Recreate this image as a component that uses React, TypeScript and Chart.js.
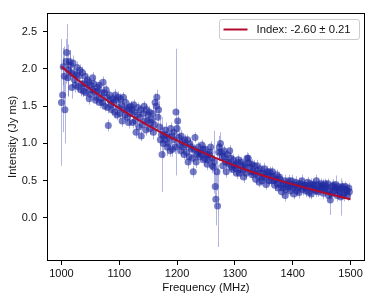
import React, { useEffect, useRef } from "react";
import { Chart, registerables } from "chart.js";

Chart.register(...registerables);

// ---- data (two interleaved channel sets) ----
const FREQ = [
  1000, 1003, 1006, 1009, 1012, 1015, 1018, 1021, 1024, 1027,
  1030, 1033, 1036, 1039, 1042, 1045, 1048, 1051, 1054, 1057,
  1060, 1063, 1066, 1069, 1072, 1075, 1078, 1081, 1084, 1087,
  1090, 1093, 1096, 1099, 1102, 1105, 1108, 1111, 1114, 1117,
  1120, 1123, 1126, 1129, 1132, 1135, 1138, 1141, 1144, 1147,
  1150, 1153, 1156, 1159, 1162, 1165, 1168, 1171, 1174, 1177,
  1180, 1183, 1186, 1189, 1192, 1195, 1198, 1201, 1204, 1207,
  1210, 1213, 1216, 1219, 1222, 1225, 1228, 1231, 1234, 1237,
  1240, 1243, 1246, 1249, 1252, 1255, 1258, 1261, 1264, 1267,
  1270, 1273, 1276, 1279, 1282, 1285, 1288, 1291, 1294, 1297,
  1300, 1303, 1306, 1309, 1312, 1315, 1318, 1321, 1324, 1327,
  1330, 1333, 1336, 1339, 1342, 1345, 1348, 1351, 1354, 1357,
  1360, 1363, 1366, 1369, 1372, 1375, 1378, 1381, 1384, 1387,
  1390, 1393, 1396, 1399, 1402, 1405, 1408, 1411, 1414, 1417,
  1420, 1423, 1426, 1429, 1432, 1435, 1438, 1441, 1444, 1447,
  1450, 1453, 1456, 1459, 1462, 1465, 1468, 1471, 1474, 1477,
  1480, 1483, 1486, 1489, 1492, 1495, 1498,
];

const INTENSITY = [
  1.55, 2.03, 1.45, 2.22, 1.98, 2.05, 1.75, 1.93, 1.78, 2.02,
  1.90, 1.72, 1.95, 1.80, 1.68, 1.85, 1.60, 1.78, 1.88, 1.70,
  1.62, 1.75, 1.55, 1.68, 1.82, 1.50, 1.62, 1.24, 1.58, 1.45,
  1.55, 1.65, 1.38, 1.48, 1.60, 1.30, 1.45, 1.55, 1.35, 1.48,
  1.50, 1.28, 1.42, 1.15, 1.48, 1.35, 1.10, 1.40, 1.30, 1.45,
  1.38, 1.20, 1.32, 1.15, 1.55, 1.62, 1.45, 1.05, 0.85, 1.10,
  1.18, 0.95, 1.08, 1.20, 0.92, 1.05, 1.42, 1.30, 0.98, 1.10,
  0.95, 1.05, 0.88, 0.75, 1.00, 0.92, 0.62, 1.08, 0.85, 0.95,
  0.88, 0.98, 0.78, 0.92, 0.72, 0.85, 0.95, 0.70, 0.75, 0.25,
  0.16, 0.95, 0.88, 0.70, 0.82, 0.62, 0.75, 0.90, 0.68, 0.78,
  0.72, 0.60, 0.78, 0.65, 0.70, 0.55, 0.68, 0.80, 0.74, 0.62,
  0.58, 0.70, 0.52, 0.64, 0.48, 0.60, 0.55, 0.66, 0.45, 0.58,
  0.62, 0.50, 0.56, 0.44, 0.58, 0.40, 0.52, 0.35, 0.46, 0.30,
  0.42, 0.50, 0.36, 0.45, 0.32, 0.48, 0.40, 0.34, 0.46, 0.38,
  0.44, 0.36, 0.48, 0.40, 0.32, 0.45, 0.38, 0.50, 0.35, 0.42,
  0.40, 0.33, 0.46, 0.38, 0.30, 0.24, 0.42, 0.36, 0.45, 0.30,
  0.38, 0.28, 0.42, 0.33, 0.38, 0.30, 0.35,
];

const ERROR = [
  0.85, 0.25, 0.45, 0.38, 0.35, 0.20, 0.15, 0.12, 0.10, 0.08,
  0.08, 0.09, 0.08, 0.07, 0.08, 0.07, 0.08, 0.07, 0.08, 0.07,
  0.08, 0.07, 0.08, 0.07, 0.08, 0.07, 0.08, 0.08, 0.07, 0.08,
  0.07, 0.08, 0.07, 0.08, 0.07, 0.08, 0.07, 0.08, 0.07, 0.08,
  0.07, 0.08, 0.07, 0.08, 0.07, 0.08, 0.07, 0.08, 0.07, 0.08,
  0.07, 0.08, 0.09, 0.10, 0.12, 0.10, 0.12, 0.15, 0.50, 0.12,
  0.10, 0.12, 0.09, 0.08, 0.10, 0.12, 0.85, 0.15, 0.10, 0.08,
  0.08, 0.07, 0.08, 0.09, 0.07, 0.08, 0.08, 0.07, 0.08, 0.07,
  0.08, 0.07, 0.08, 0.07, 0.08, 0.07, 0.08, 0.10, 0.42, 0.35,
  0.55, 0.15, 0.10, 0.08, 0.07, 0.08, 0.07, 0.08, 0.07, 0.08,
  0.07, 0.08, 0.07, 0.08, 0.07, 0.08, 0.07, 0.08, 0.07, 0.08,
  0.07, 0.08, 0.07, 0.08, 0.07, 0.08, 0.07, 0.08, 0.07, 0.08,
  0.07, 0.08, 0.07, 0.08, 0.07, 0.08, 0.07, 0.08, 0.07, 0.08,
  0.07, 0.08, 0.07, 0.08, 0.07, 0.08, 0.07, 0.08, 0.07, 0.08,
  0.07, 0.08, 0.07, 0.08, 0.07, 0.08, 0.07, 0.08, 0.07, 0.08,
  0.07, 0.08, 0.07, 0.08, 0.07, 0.20, 0.08, 0.07, 0.12, 0.08,
  0.07, 0.25, 0.08, 0.07, 0.08, 0.07, 0.08,
];

const FREQ_B = [
  1002, 1005, 1008, 1011, 1014, 1017, 1020, 1023, 1026, 1029,
  1032, 1035, 1038, 1041, 1044, 1047, 1050, 1053, 1056, 1059,
  1062, 1065, 1068, 1071, 1074, 1077, 1080, 1083, 1086, 1089,
  1092, 1095, 1098, 1101, 1104, 1107, 1110, 1113, 1116, 1119,
  1122, 1125, 1128, 1131, 1134, 1137, 1140, 1143, 1146, 1149,
  1152, 1155, 1158, 1161, 1164, 1167, 1170, 1173, 1176, 1179,
  1182, 1185, 1188, 1191, 1194, 1197, 1200, 1203, 1206, 1209,
  1212, 1215, 1218, 1221, 1224, 1227, 1230, 1233, 1236, 1239,
  1242, 1245, 1248, 1251, 1254, 1257, 1260, 1263, 1266, 1269,
  1272, 1275, 1278, 1281, 1284, 1287, 1290, 1293, 1296, 1299,
  1302, 1305, 1308, 1311, 1314, 1317, 1320, 1323, 1326, 1329,
  1332, 1335, 1338, 1341, 1344, 1347, 1350, 1353, 1356, 1359,
  1362, 1365, 1368, 1371, 1374, 1377, 1380, 1383, 1386, 1389,
  1392, 1395, 1398, 1401, 1404, 1407, 1410, 1413, 1416, 1419,
  1422, 1425, 1428, 1431, 1434, 1437, 1440, 1443, 1446, 1449,
  1452, 1455, 1458, 1461, 1464, 1467, 1470, 1473, 1476, 1479,
  1482, 1485, 1488, 1491, 1494, 1497,
];

const INTENSITY_B = [
  1.65, 1.90, 2.10, 1.88, 2.10, 1.95, 2.08, 1.85, 1.92, 1.76,
  1.98, 1.80, 1.70, 1.90, 1.75, 1.82, 1.66, 1.72, 1.80, 1.58,
  1.70, 1.78, 1.60, 1.55, 1.68, 1.72, 1.48, 1.65, 1.52, 1.60,
  1.42, 1.58, 1.62, 1.40, 1.52, 1.62, 1.38, 1.46, 1.28, 1.40,
  1.45, 1.52, 1.30, 1.38, 1.22, 1.45, 1.25, 1.50, 1.18, 1.30,
  1.42, 1.28, 1.40, 1.25, 1.50, 1.35, 1.22, 1.12, 1.00, 1.05,
  1.12, 1.00, 0.90, 1.10, 1.15, 0.95, 1.20, 1.08, 0.90, 1.02,
  0.85, 0.98, 1.05, 0.82, 0.95, 0.80, 0.92, 0.75, 0.88, 0.82,
  0.85, 0.92, 0.80, 0.85, 0.78, 0.88, 0.80, 0.68, 0.42, 0.62,
  0.88, 1.00, 0.82, 0.90, 0.75, 0.85, 0.72, 0.80, 0.65, 0.70,
  0.66, 0.74, 0.60, 0.75, 0.64, 0.72, 0.60, 0.80, 0.68, 0.72,
  0.62, 0.60, 0.70, 0.56, 0.66, 0.50, 0.60, 0.54, 0.62, 0.50,
  0.56, 0.62, 0.50, 0.52, 0.46, 0.55, 0.44, 0.40, 0.50, 0.38,
  0.46, 0.42, 0.50, 0.40, 0.44, 0.36, 0.46, 0.42, 0.50, 0.42,
  0.40, 0.44, 0.34, 0.46, 0.40, 0.44, 0.36, 0.45, 0.38, 0.46,
  0.44, 0.38, 0.42, 0.46, 0.36, 0.32, 0.44, 0.40, 0.36, 0.42,
  0.34, 0.40, 0.30, 0.42, 0.36, 0.40,
];

const ERROR_B = [
  0.50, 0.40, 0.30, 0.25, 0.15, 0.12, 0.10, 0.08, 0.08, 0.07,
  0.08, 0.07, 0.08, 0.07, 0.08, 0.07, 0.08, 0.07, 0.08, 0.07,
  0.08, 0.07, 0.08, 0.07, 0.08, 0.07, 0.08, 0.07, 0.08, 0.07,
  0.08, 0.07, 0.08, 0.07, 0.08, 0.07, 0.08, 0.07, 0.08, 0.07,
  0.08, 0.07, 0.08, 0.07, 0.08, 0.07, 0.08, 0.07, 0.08, 0.07,
  0.08, 0.07, 0.08, 0.09, 0.10, 0.09, 0.10, 0.12, 0.20, 0.10,
  0.08, 0.09, 0.08, 0.07, 0.08, 0.09, 0.10, 0.08, 0.07, 0.08,
  0.07, 0.08, 0.07, 0.08, 0.07, 0.08, 0.07, 0.08, 0.07, 0.08,
  0.07, 0.08, 0.07, 0.08, 0.07, 0.08, 0.07, 0.10, 0.20, 0.25,
  0.12, 0.15, 0.08, 0.07, 0.08, 0.07, 0.08, 0.07, 0.08, 0.07,
  0.08, 0.07, 0.08, 0.07, 0.08, 0.07, 0.08, 0.07, 0.08, 0.07,
  0.08, 0.07, 0.08, 0.07, 0.08, 0.07, 0.08, 0.07, 0.08, 0.07,
  0.08, 0.07, 0.08, 0.07, 0.08, 0.07, 0.08, 0.07, 0.08, 0.07,
  0.08, 0.07, 0.08, 0.07, 0.08, 0.07, 0.08, 0.07, 0.08, 0.07,
  0.08, 0.07, 0.08, 0.07, 0.08, 0.07, 0.08, 0.07, 0.08, 0.07,
  0.08, 0.07, 0.08, 0.07, 0.08, 0.07, 0.08, 0.07, 0.08, 0.07,
  0.08, 0.07, 0.08, 0.07, 0.08, 0.07,
];

// fitted power-law curve
const FIT_FREQ = [1000, 1032, 1090, 1148, 1205, 1263, 1321, 1378, 1436, 1500];
const FIT_VAL = [2.03, 1.83, 1.52, 1.25, 1.02, 0.815, 0.64, 0.5, 0.375, 0.25];

const X_TICKS = [1000, 1100, 1200, 1300, 1400, 1500];
const Y_TICKS = [0, 0.5, 1.0, 1.5, 2.0, 2.5];

const LEGEND_LABEL = "Index: -2.60 \u00b1 0.21";
const X_TITLE = "Frequency (MHz)";
const Y_TITLE = "Intensity (Jy ms)";

// ---- styles ----
const FONT_FAMILY = "'Liberation Sans', Arial, sans-serif";
const POINT_COLOR = "rgba(32, 42, 160, 0.62)";
const ERR_COLOR = "rgba(75, 80, 185, 0.42)";
const FIT_COLOR = "rgb(178, 10, 44)";
const TEXT_COLOR = "#111";

const ALL_F = FREQ.concat(FREQ_B);
const ALL_V = INTENSITY.concat(INTENSITY_B);
const ALL_E = ERROR.concat(ERROR_B);

const errorBarPlugin = {
  id: "errorBars",
  beforeDatasetsDraw(chart: any) {
    const { ctx, chartArea, scales } = chart;
    const xs = scales.x;
    const ys = scales.y;
    ctx.save();
    ctx.beginPath();
    ctx.rect(chartArea.left, chartArea.top, chartArea.right - chartArea.left, chartArea.bottom - chartArea.top);
    ctx.clip();
    ctx.strokeStyle = ERR_COLOR;
    ctx.lineWidth = 1;
    for (let i = 0; i < ALL_F.length; i++) {
      const px = Math.round(xs.getPixelForValue(ALL_F[i])) + 0.5;
      ctx.beginPath();
      ctx.moveTo(px, ys.getPixelForValue(ALL_V[i] - ALL_E[i]));
      ctx.lineTo(px, ys.getPixelForValue(ALL_V[i] + ALL_E[i]));
      ctx.stroke();
    }
    ctx.restore();
  },
};

const framePlugin = {
  id: "frameLegend",
  afterDraw(chart: any) {
    const { ctx, chartArea } = chart;
    ctx.save();
    ctx.strokeStyle = "#000";
    ctx.lineWidth = 1;
    const l = Math.round(chartArea.left) + 0.5;
    const t = Math.round(chartArea.top) + 0.5;
    const r = Math.round(chartArea.right) - 0.5;
    const b = Math.round(chartArea.bottom) - 0.5;
    ctx.strokeRect(l, t, r - l, b - t);

    const lw = 140;
    const lh = 20;
    const lx = Math.round(chartArea.right) - 6 - lw + 0.5;
    const ly = Math.round(chartArea.top) + 6 + 0.5;
    ctx.beginPath();
    if ((ctx as any).roundRect) (ctx as any).roundRect(lx, ly, lw, lh, 2.5);
    else ctx.rect(lx, ly, lw, lh);
    ctx.fillStyle = "rgba(255,255,255,0.85)";
    ctx.fill();
    ctx.strokeStyle = "#cccccc";
    ctx.lineWidth = 1;
    ctx.stroke();

    const cy = ly + lh / 2;
    ctx.beginPath();
    ctx.strokeStyle = FIT_COLOR;
    ctx.lineWidth = 2;
    ctx.moveTo(lx + 4, cy);
    ctx.lineTo(lx + 28, cy);
    ctx.stroke();

    ctx.fillStyle = TEXT_COLOR;
    ctx.font = `11.3px ${FONT_FAMILY}`;
    ctx.textBaseline = "middle";
    ctx.textAlign = "left";
    ctx.fillText(LEGEND_LABEL, lx + 37, cy + 0.5);
    ctx.restore();
  },
};

export default function App() {
  const canvasRef = useRef<HTMLCanvasElement | null>(null);

  useEffect(() => {
    const canvas = canvasRef.current;
    if (!canvas) return;
    const tickFont = { family: FONT_FAMILY, size: 11 };
    const titleFont = { family: FONT_FAMILY, size: 11.3 };
    const pointStyle = {
      showLine: false,
      pointRadius: 3.5,
      pointBackgroundColor: POINT_COLOR,
      pointBorderWidth: 0,
      backgroundColor: POINT_COLOR,
      borderWidth: 0,
      order: 1,
    };
    const chart = new Chart(canvas, {
      type: "scatter",
      data: {
        datasets: [
          {
            label: LEGEND_LABEL,
            data: FIT_FREQ.map((f, i) => ({ x: f, y: FIT_VAL[i] })),
            showLine: true,
            borderColor: FIT_COLOR,
            borderWidth: 2,
            pointRadius: 0,
            cubicInterpolationMode: "monotone",
            order: 0,
          } as any,
          { label: "data", data: FREQ.map((f, i) => ({ x: f, y: INTENSITY[i] })), ...pointStyle } as any,
          { label: "data b", data: FREQ_B.map((f, i) => ({ x: f, y: INTENSITY_B[i] })), ...pointStyle } as any,
        ],
      },
      options: {
        animation: false,
        responsive: false,
        devicePixelRatio: 1,
        layout: { padding: { top: 7, right: 9, left: 0, bottom: 0 } },
        plugins: { legend: { display: false }, tooltip: { enabled: false } },
        scales: {
          x: {
            type: "linear",
            min: 975,
            max: 1525,
            afterBuildTicks: (s: any) => {
              s.ticks = X_TICKS.map((v) => ({ value: v }));
            },
            afterFit: (s: any) => {
              s.height = 42;
            },
            ticks: {
              font: tickFont,
              color: TEXT_COLOR,
              padding: 2,
              maxRotation: 0,
              autoSkip: false,
              callback: (v: any) => String(v),
            },
            grid: { drawOnChartArea: false, drawTicks: true, tickLength: 4, color: "#000", tickColor: "#000", lineWidth: 1 },
            border: { display: false },
            title: { display: true, text: X_TITLE, font: titleFont, color: TEXT_COLOR, padding: { top: 0, bottom: 8.5 } },
          },
          y: {
            type: "linear",
            min: -0.578,
            max: 2.755,
            afterBuildTicks: (s: any) => {
              s.ticks = Y_TICKS.map((v) => ({ value: v }));
            },
            afterFit: (s: any) => {
              s.width = 47;
            },
            ticks: {
              font: tickFont,
              color: TEXT_COLOR,
              padding: 6,
              autoSkip: false,
              callback: (v: any) => Number(v).toFixed(1),
            },
            grid: { drawOnChartArea: false, drawTicks: true, tickLength: 4, color: "#000", tickColor: "#000", lineWidth: 1 },
            border: { display: false },
            title: { display: true, text: Y_TITLE, font: titleFont, color: TEXT_COLOR, padding: { top: 6.5, bottom: 0 } },
          },
        },
      } as any,
      plugins: [errorBarPlugin, framePlugin],
    });
    return () => chart.destroy();
  }, []);

  return (
    <div style={{ position: "fixed", left: 0, top: 0, width: 374, height: 303, background: "#fff" }}>
      <canvas ref={canvasRef} width={374} height={303} style={{ width: 374, height: 303, display: "block" }} />
    </div>
  );
}
